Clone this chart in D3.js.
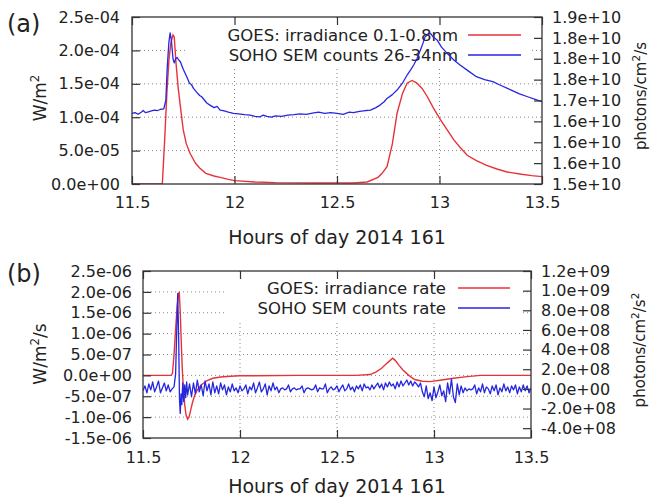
<!DOCTYPE html>
<html>
<head>
<meta charset="utf-8">
<script src="https://cdn.jsdelivr.net/npm/d3@7"></script>
<style>
  body { margin: 0; background: #fff; }
  svg text { font-family: "DejaVu Sans", sans-serif; fill: #222; }
</style>
</head>
<body>
<div id="chart"></div>
<script>
// ---------------- data ----------------
const hourTicks = [11.5, 12, 12.5, 13, 13.5];
const hourTickLabels = ['11.5', '12', '12.5', '13', '13.5'];

// (a) GOES irradiance 0.1-0.8nm, in 1e-4 W/m^2
const goesIrradiance = [
  [11.50, 0], [11.60, 0], [11.648, 0], [11.66, 0.7], [11.67, 1.35], [11.68, 1.85], [11.69, 2.12],
  [11.70, 2.23], [11.706, 2.2], [11.715, 1.8], [11.725, 1.45], [11.734, 1.21], [11.75, 0.81],
  [11.765, 0.6], [11.783, 0.46], [11.81, 0.31], [11.83, 0.24], [11.86, 0.16], [11.9, 0.12],
  [11.93, 0.1], [11.97, 0.07], [12.0, 0.05], [12.1, 0.03], [12.2, 0.02], [12.4, 0.015],
  [12.58, 0.015], [12.647, 0.03], [12.7, 0.1], [12.72, 0.16], [12.744, 0.26], [12.77, 0.6],
  [12.793, 1.06], [12.82, 1.36], [12.842, 1.51], [12.866, 1.55], [12.89, 1.51], [12.915, 1.43],
  [12.94, 1.31], [12.97, 1.14], [13.005, 0.96], [13.04, 0.8], [13.07, 0.66], [13.1, 0.55],
  [13.135, 0.43], [13.18, 0.35], [13.23, 0.28], [13.28, 0.225], [13.33, 0.18], [13.4, 0.145],
  [13.45, 0.125], [13.5, 0.11]
];

// (a) SOHO SEM counts 26-34nm, in 1e10 photons/cm^2/s
const semCounts = [
  [11.50, 1.669], [11.515, 1.671], [11.53, 1.667], [11.545, 1.672], [11.555, 1.676], [11.565, 1.671],
  [11.58, 1.673], [11.595, 1.675], [11.61, 1.677], [11.625, 1.676], [11.64, 1.679], [11.655, 1.680],
  [11.665, 1.70], [11.672, 1.78], [11.68, 1.84], [11.686, 1.862], [11.692, 1.845], [11.70, 1.80],
  [11.706, 1.79], [11.713, 1.80], [11.72, 1.803], [11.728, 1.797], [11.736, 1.793], [11.75, 1.775],
  [11.767, 1.757], [11.78, 1.742], [11.79, 1.738], [11.80, 1.729], [11.815, 1.72], [11.83, 1.712],
  [11.84, 1.709], [11.85, 1.703], [11.865, 1.694], [11.88, 1.689], [11.9, 1.683], [11.915, 1.686],
  [11.93, 1.677], [11.95, 1.675], [11.97, 1.672], [11.995, 1.669], [12.02, 1.668], [12.05, 1.666],
  [12.076, 1.665], [12.1, 1.662], [12.125, 1.661], [12.14, 1.665], [12.158, 1.662], [12.18, 1.660],
  [12.2, 1.663], [12.23, 1.662], [12.26, 1.665], [12.29, 1.666], [12.32, 1.668], [12.35, 1.667],
  [12.38, 1.670], [12.41, 1.672], [12.44, 1.669], [12.47, 1.671], [12.5, 1.669], [12.53, 1.667],
  [12.56, 1.672], [12.58, 1.671], [12.61, 1.674], [12.64, 1.676], [12.663, 1.677], [12.69, 1.683],
  [12.71, 1.689], [12.73, 1.697], [12.744, 1.705], [12.77, 1.714], [12.793, 1.725], [12.82, 1.742],
  [12.842, 1.761], [12.86, 1.774], [12.874, 1.785], [12.89, 1.80], [12.907, 1.821], [12.92, 1.838],
  [12.93, 1.853], [12.945, 1.858], [12.956, 1.861], [12.97, 1.852], [12.988, 1.845], [13.01, 1.828],
  [13.037, 1.813], [13.07, 1.797], [13.1, 1.785], [13.14, 1.771], [13.18, 1.757], [13.22, 1.750],
  [13.26, 1.745], [13.3, 1.736], [13.35, 1.725], [13.39, 1.716], [13.43, 1.709], [13.47, 1.702],
  [13.5, 1.697]
];

const irradianceTicks = [0, 0.5, 1, 1.5, 2, 2.5];
const irradianceTickLabels = ['0.0e+00', '5.0e-05', '1.0e-04', '1.5e-04', '2.0e-04', '2.5e-04'];
const countsTicks = [1.5, 1.55, 1.6, 1.65, 1.7, 1.75, 1.8, 1.85, 1.9];
const countsTickLabels = ['1.5e+10', '1.6e+10', '1.6e+10', '1.6e+10', '1.7e+10',
                          '1.8e+10', '1.8e+10', '1.8e+10', '1.9e+10'];

// (b) GOES irradiance rate, in 1e-6 W/m^2/s
const goesRate = [
  [11.5, 0], [11.645, 0], [11.652, 0.05], [11.66, 0.5], [11.668, 1.1], [11.676, 1.65],
  [11.683, 1.95], [11.687, 2.0], [11.692, 1.5], [11.698, 0.7], [11.703, 0.1], [11.708, -0.3],
  [11.715, -0.7], [11.722, -0.95], [11.73, -1.05], [11.737, -1.0], [11.745, -0.85], [11.755, -0.65],
  [11.767, -0.47], [11.78, -0.35], [11.8, -0.23], [11.828, -0.13], [11.86, -0.07], [11.9, -0.04],
  [11.95, -0.02], [12.0, -0.01], [12.3, 0], [12.6, 0], [12.67, 0.02], [12.7, 0.08], [12.73, 0.17],
  [12.76, 0.3], [12.787, 0.41], [12.8, 0.36], [12.82, 0.24], [12.84, 0.13], [12.87, 0.0],
  [12.9, -0.1], [12.94, -0.14], [12.98, -0.15], [13.04, -0.11], [13.1, -0.07], [13.17, -0.03],
  [13.24, 0], [13.5, 0]
];

// (b) SOHO SEM counts rate, in 1e8 photons/cm^2/s^2
const semRate = [
  [11.50, -0.2], [11.51, 0.3], [11.52, -0.4], [11.53, 0.5], [11.54, -0.1], [11.55, 0.7], [11.56, -0.3],
  [11.57, 0.2], [11.58, 0.8], [11.59, -0.4], [11.60, 0.1], [11.61, 0.6], [11.62, -0.2], [11.63, 0.4],
  [11.64, -0.3], [11.65, 0.0], [11.66, 0.2], [11.668, 1.5], [11.674, 6.0], [11.679, 9.7], [11.684, 5.0],
  [11.688, -1.0], [11.692, -2.5], [11.696, -0.5], [11.70, -1.6], [11.705, 0.6], [11.71, -1.3],
  [11.715, 0.4], [11.72, -0.9], [11.725, 0.7], [11.73, -0.6], [11.74, 0.5], [11.75, -0.8], [11.76, 0.6],
  [11.77, -0.5], [11.78, 0.9], [11.79, -0.3], [11.80, 0.4], [11.81, -0.7], [11.82, 0.8], [11.83, -0.2],
  [11.84, 0.5], [11.85, -0.6], [11.86, 0.7], [11.87, -0.4], [11.88, 0.3], [11.89, -0.5], [11.90, 0.6],
  [11.91, -0.1], [11.92, 0.4], [11.93, -0.6], [11.94, 0.2], [11.95, -0.3], [11.96, 0.5], [11.97, -0.2],
  [11.98, 0.1], [11.99, -0.4], [12.00, 0.3], [12.01, -0.2], [12.02, 0.0], [12.03, 0.4], [12.04, -0.5],
  [12.05, 0.2], [12.06, -0.1], [12.07, 0.6], [12.08, -0.4], [12.09, 0.1], [12.10, 0.7], [12.11, -0.3],
  [12.12, 0.0], [12.13, 0.5], [12.14, -0.6], [12.15, 0.3], [12.16, -0.2], [12.17, 0.6], [12.18, -0.1],
  [12.19, 0.2], [12.20, -0.4], [12.21, 0.0], [12.22, 0.1], [12.23, -0.1], [12.24, 0.0], [12.25, 0.4],
  [12.26, -0.3], [12.27, 0.0], [12.28, 0.1], [12.29, -0.1], [12.30, 0.0], [12.31, 0.0], [12.32, 0.3],
  [12.33, -0.4], [12.34, 0.0], [12.35, 0.1], [12.36, 0.0], [12.37, -0.1], [12.38, 0.0], [12.39, 0.4],
  [12.40, -0.3], [12.41, 0.1], [12.42, 0.0], [12.43, 0.0], [12.44, 0.5], [12.45, -0.4], [12.46, 0.0],
  [12.47, 0.2], [12.48, -0.1], [12.49, 0.0], [12.50, 0.3], [12.51, -0.3], [12.52, 0.1], [12.53, 0.4],
  [12.54, -0.2], [12.55, 0.0], [12.56, 0.5], [12.57, -0.1], [12.58, 0.2], [12.59, -0.3], [12.60, 0.3],
  [12.61, 0.0], [12.62, 0.4], [12.63, -0.2], [12.64, 0.5], [12.65, 0.1], [12.66, 0.2], [12.67, -0.1],
  [12.68, 0.4], [12.69, 0.0], [12.70, 0.3], [12.71, 0.6], [12.72, 0.1], [12.73, 0.5], [12.74, -0.1],
  [12.75, 0.6], [12.76, 0.2], [12.77, 0.7], [12.78, 0.3], [12.79, 0.5], [12.80, 0.0], [12.81, 0.7],
  [12.82, 0.2], [12.83, 0.8], [12.84, 0.3], [12.85, 0.6], [12.86, 0.9], [12.87, 0.4], [12.88, 0.8],
  [12.89, 0.3], [12.90, 0.7], [12.91, 0.5], [12.92, 0.2], [12.93, 0.6], [12.94, -0.3], [12.95, -0.8],
  [12.96, 0.3], [12.97, -1.0], [12.98, -0.4], [12.99, -1.2], [13.00, 0.2], [13.01, -0.9], [13.02, -0.3],
  [13.03, 0.4], [13.04, -0.7], [13.05, -0.2], [13.06, -1.3], [13.07, 0.6], [13.08, -0.5], [13.09, 1.0],
  [13.10, -0.8], [13.11, -1.4], [13.12, 0.5], [13.13, -0.6], [13.14, 0.3], [13.15, -0.4], [13.16, 0.1],
  [13.17, -0.2], [13.18, 0.0], [13.19, -0.1], [13.20, 0.0], [13.21, 0.4], [13.22, -0.5], [13.23, 0.1],
  [13.24, -0.3], [13.25, 0.5], [13.26, -0.4], [13.27, 0.2], [13.28, 0.0], [13.29, -0.5], [13.30, 0.3],
  [13.31, -0.2], [13.32, 0.4], [13.33, -0.6], [13.34, 0.1], [13.35, -0.3], [13.36, 0.5], [13.37, -0.2],
  [13.38, 0.2], [13.39, -0.4], [13.40, 0.3], [13.41, -0.1], [13.42, 0.4], [13.43, -0.5], [13.44, 0.2],
  [13.45, -0.3], [13.46, 0.4], [13.47, -0.2], [13.48, 0.3], [13.49, -0.4], [13.50, 0.1]
];

const rateTicks = [-1.5, -1, -0.5, 0, 0.5, 1, 1.5, 2, 2.5];
const rateTickLabels = ['-1.5e-06', '-1.0e-06', '-5.0e-07', '0.0e+00', '5.0e-07',
                        '1.0e-06', '1.5e-06', '2.0e-06', '2.5e-06'];
const countsRateTicks = [-4, -2, 0, 2, 4, 6, 8, 10, 12];
const countsRateTickLabels = ['-4.0e+08', '-2.0e+08', '0.0e+00', '2.0e+08', '4.0e+08',
                              '6.0e+08', '8.0e+08', '1.0e+09', '1.2e+09'];

const RED = '#e8323a';
const BLUE = '#2626e0';
const FRAME = '#333';

class DualAxisPanel {

  constructor(_config, _data) {
    this.config = _config;
    this.data = _data;
    this.initVis();
  }

  initVis() {
    let vis = this;
    const c = vis.config;

    vis.x = d3.scaleLinear().domain([11.5, 13.5]).range([c.left, c.right]);
    vis.y = d3.scaleLinear().domain(c.yDomain).range([c.bottom, c.top]);
    vis.y2 = d3.scaleLinear().domain(c.y2Domain).range([c.bottom, c.top]);

    vis.g = c.svg.append('g');

    vis.g.append('clipPath').attr('id', c.id + '-clip')
      .append('rect')
        .attr('x', c.left).attr('y', c.top)
        .attr('width', c.right - c.left).attr('height', c.bottom - c.top);

    vis.renderVis();
  }

  renderVis() {
    let vis = this;
    const c = vis.config;
    const g = vis.g;

    // dotted grid
    g.append('g').selectAll('line')
        .data(hourTicks.slice(1, -1))
      .join('line')
        .attr('x1', d => vis.x(d)).attr('x2', d => vis.x(d))
        .attr('y1', c.top).attr('y2', c.bottom);
    g.append('g').selectAll('line')
        .data(c.yTicks.slice(1, -1))
      .join('line')
        .attr('x1', c.left).attr('x2', c.right)
        .attr('y1', d => vis.y(d)).attr('y2', d => vis.y(d));
    g.selectAll('g line')
        .attr('stroke', '#888').attr('stroke-width', 1).attr('stroke-dasharray', '1,3');

    // key box hides grid, data lines are drawn over it
    const k = c.key;
    g.append('rect')
        .attr('x', k.box[0]).attr('y', k.box[1])
        .attr('width', k.box[2] - k.box[0]).attr('height', k.box[3] - k.box[1])
        .attr('fill', '#fff');
    k.labels.forEach((label, i) => {
      const yy = k.rows[i];
      g.append('text')
          .attr('x', k.textRight).attr('y', yy).attr('dy', '0.35em')
          .attr('text-anchor', 'end').attr('font-size', 16.5)
          .text(label);
      g.append('line')
          .attr('x1', k.sample[0]).attr('x2', k.sample[1])
          .attr('y1', yy).attr('y2', yy)
          .attr('stroke', i === 0 ? RED : BLUE).attr('stroke-width', 1.4);
    });

    // series
    const lineY = d3.line().x(d => vis.x(d[0])).y(d => vis.y(d[1]));
    const lineY2 = d3.line().x(d => vis.x(d[0])).y(d => vis.y2(d[1]));
    const series = g.append('g').attr('clip-path', `url(#${c.id}-clip)`);
    series.append('path')
        .datum(vis.data.left)
        .attr('d', lineY)
        .attr('fill', 'none').attr('stroke', RED).attr('stroke-width', 1.4);
    series.append('path')
        .datum(vis.data.right)
        .attr('d', lineY2)
        .attr('fill', 'none').attr('stroke', BLUE).attr('stroke-width', 1.3)
        .attr('stroke-linejoin', 'round');

    // frame
    g.append('rect')
        .attr('x', c.left).attr('y', c.top)
        .attr('width', c.right - c.left).attr('height', c.bottom - c.top)
        .attr('fill', 'none').attr('stroke', FRAME).attr('stroke-width', 1.3);

    // axes with inward ticks
    const styleAxis = sel => {
      sel.select('.domain').remove();
      sel.selectAll('line').attr('stroke', FRAME).attr('stroke-width', 1.2);
      sel.selectAll('text').attr('font-size', 16).attr('font-family', '"DejaVu Sans", sans-serif')
        .attr('fill', '#222');
    };

    g.append('g')
        .attr('transform', `translate(0,${c.bottom})`)
        .call(d3.axisBottom(vis.x).tickValues(hourTicks)
          .tickFormat((d, i) => hourTickLabels[i]).tickSize(-8).tickPadding(c.xPad))
        .call(styleAxis);
    g.append('g')
        .attr('transform', `translate(0,${c.top})`)
        .call(d3.axisTop(vis.x).tickValues(hourTicks).tickFormat('').tickSize(-8))
        .call(styleAxis);
    g.append('g')
        .attr('transform', `translate(${c.left},0)`)
        .call(d3.axisLeft(vis.y).tickValues(c.yTicks)
          .tickFormat((d, i) => c.yTickLabels[i]).tickSize(-8).tickPadding(c.yPad))
        .call(styleAxis);
    g.append('g')
        .attr('transform', `translate(${c.right},0)`)
        .call(d3.axisRight(vis.y2).tickValues(c.y2Ticks)
          .tickFormat((d, i) => c.y2TickLabels[i]).tickSize(-8).tickPadding(c.y2Pad))
        .call(styleAxis);

    // titles
    const mid = (c.left + c.right) / 2;
    g.append('text')
        .attr('x', mid).attr('y', c.xTitleY).attr('dy', '0.35em')
        .attr('text-anchor', 'middle').attr('font-size', 19)
        .text('Hours of day 2014 161');

    const rotated = (x, y, size, parts) => {
      const t = g.append('text')
          .attr('transform', `translate(${x},${y}) rotate(-90)`)
          .attr('text-anchor', 'middle').attr('dy', '0.35em').attr('font-size', size);
      parts.forEach(p => {
        const s = t.append('tspan').text(p.t);
        if (p.sup) s.attr('baseline-shift', 'super').attr('font-size', size * 0.7);
      });
    };
    rotated(c.yTitle[0], c.yTitle[1], c.yTitle[2], c.yTitleParts);
    rotated(c.y2Title[0], c.y2Title[1], c.y2Title[2], c.y2TitleParts);

    g.append('text')
        .attr('x', 7).attr('y', c.tagY)
        .attr('font-size', 24)
        .text(c.tag);
  }
}

const svg = d3.select('#chart').append('svg')
    .attr('width', 650).attr('height', 502);

new DualAxisPanel({
  svg, id: 'pa', tag: '(a)', tagY: 32,
  left: 132, right: 542, top: 17, bottom: 184,
  yDomain: [0, 2.5], yTicks: irradianceTicks, yTickLabels: irradianceTickLabels,
  y2Domain: [1.5, 1.9], y2Ticks: countsTicks, y2TickLabels: countsTickLabels,
  xPad: 13, yPad: 12, y2Pad: 10, xTitleY: 237,
  yTitle: [40, 98, 17], yTitleParts: [{t: 'W/m'}, {t: '2', sup: true}],
  y2Title: [641, 96, 15], y2TitleParts: [{t: 'photons/cm'}, {t: '2', sup: true}, {t: '/s'}],
  key: {
    box: [186, 18, 531, 66], rows: [35, 55], textRight: 458, sample: [468, 521],
    labels: ['GOES: irradiance 0.1-0.8nm', 'SOHO SEM counts 26-34nm']
  }
}, {left: goesIrradiance, right: semCounts});

new DualAxisPanel({
  svg, id: 'pb', tag: '(b)', tagY: 282,
  left: 143, right: 531, top: 271, bottom: 438,
  yDomain: [-1.5, 2.5], yTicks: rateTicks, yTickLabels: rateTickLabels,
  y2Domain: [-5, 12], y2Ticks: countsRateTicks, y2TickLabels: countsRateTickLabels,
  xPad: 14, yPad: 11, y2Pad: 10, xTitleY: 486,
  yTitle: [40, 354, 17], yTitleParts: [{t: 'W/m'}, {t: '2', sup: true}, {t: '/s'}],
  y2Title: [640, 350, 15], y2TitleParts: [{t: 'photons/cm'}, {t: '2', sup: true}, {t: '/s'}, {t: '2', sup: true}],
  key: {
    box: [226, 272, 522, 320], rows: [288, 308], textRight: 446, sample: [458, 510],
    labels: ['GOES: irradiance rate', 'SOHO SEM counts rate']
  }
}, {left: goesRate, right: semRate});
</script>
</body>
</html>
